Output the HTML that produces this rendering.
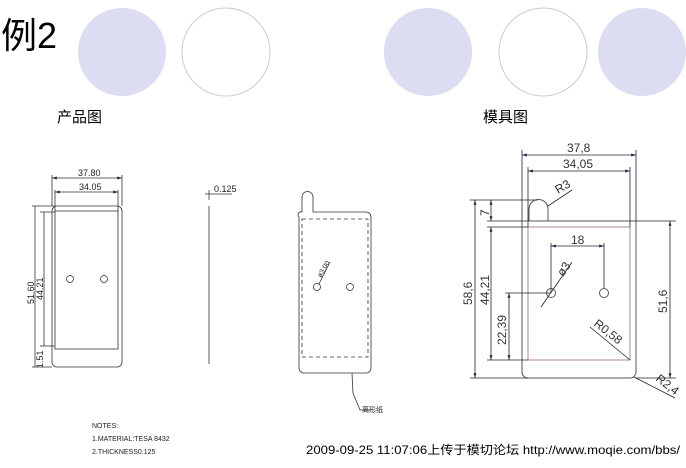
<!DOCTYPE html>
<html><head><meta charset="utf-8"><style>
body{margin:0;background:#fff;width:686px;height:463px;overflow:hidden}
svg text{font-family:"Liberation Sans","Noto Sans CJK SC",sans-serif}
</style></head><body>
<svg width="686" height="463" viewBox="0 0 686 463" xmlns="http://www.w3.org/2000/svg">
<defs><marker id="a" viewBox="0 0 10 10" refX="10" refY="5" markerWidth="6" markerHeight="6" orient="auto-start-reverse"><path d="M0,2 L10,5 L0,8z" fill="#224"/></marker></defs>
<text x="1" y="48" font-size="36" fill="#000">例2</text>
<circle cx="122" cy="52" r="44" fill="#dcdcf2"/>
<circle cx="226" cy="52" r="44" fill="#fff" stroke="#ccc"/>
<circle cx="428" cy="52" r="44" fill="#dcdcf2"/>
<circle cx="543" cy="52" r="44" fill="#fff" stroke="#ccc"/>
<circle cx="642" cy="52" r="44" fill="#dcdcf2"/>
<text x="57" y="122" font-size="15">产品图</text>
<text x="483" y="122" font-size="15">模具图</text>

<!-- left product -->
<g stroke="#333" fill="none" stroke-width="0.8">
<rect x="52" y="206" width="70" height="161" rx="5"/>
<rect x="55" y="211" width="63" height="138"/>
<circle cx="70" cy="279" r="3.5"/><circle cx="104" cy="279" r="3.5"/>
<line x1="52" y1="178" x2="122" y2="178" marker-start="url(#a)" marker-end="url(#a)"/>
<line x1="55" y1="192" x2="118" y2="192" marker-start="url(#a)" marker-end="url(#a)"/>
<line x1="52" y1="175" x2="52" y2="206"/><line x1="122" y1="175" x2="122" y2="206"/>
<line x1="55" y1="190" x2="55" y2="211"/><line x1="118" y1="190" x2="118" y2="211"/>
<line x1="35" y1="206" x2="35" y2="367"/><line x1="44" y1="212" x2="44" y2="346"/>
<line x1="32" y1="206" x2="55" y2="206"/><line x1="40" y1="212" x2="55" y2="212"/>
<line x1="40" y1="346" x2="55" y2="346"/><line x1="32" y1="367" x2="52" y2="367"/>
<line x1="209" y1="206" x2="209" y2="364"/><line x1="209" y1="190" x2="209" y2="200"/>
<line x1="205" y1="194" x2="232" y2="194"/>
</g>
<g font-size="9" fill="#222">
<text x="78" y="176">37.80</text><text x="79" y="190">34.05</text>
<text transform="translate(34,304) rotate(-90)">51.60</text>
<text transform="translate(43,300) rotate(-90)">44.21</text>
<text transform="translate(43,368) rotate(-90)">1.51</text>
<text x="214" y="192">0.125</text>
</g>

<!-- middle -->
<g stroke="#333" fill="none" stroke-width="0.8">
<path d="M302,212 L302,197 A5.5,5.5 0 0 1 313,197 L313,212 L366,212 A5,5 0 0 1 371,217 L371,368 A5,5 0 0 1 366,373 L304,373 A5,5 0 0 1 299,368 L299,217 A3,3 0 0 1 302,212"/>
<rect x="302" y="219" width="66" height="138" stroke-dasharray="4,3"/>
<circle cx="317" cy="287" r="3.5"/><circle cx="350" cy="287" r="3.5"/>
<line x1="319" y1="284" x2="330" y2="262"/>
<path d="M352,373 L353,393 L360,410 L370,410"/>
</g>
<text transform="translate(321,278) rotate(-60)" font-size="7" fill="#222">ø3.00</text>
<text x="362" y="412" font-size="7" fill="#222">离形纸</text>

<!-- right mold -->
<g stroke="#555" fill="none" stroke-width="1">
<path d="M522,221 L522,372 A6,6 0 0 0 528,378 L630,378 A6,6 0 0 0 636,372 L636,221 Z"/>
<rect x="528" y="227" width="102" height="133" stroke="#a88"/>
<path d="M529,221 L529,209 A9,9 0 0 1 548,209 L548,221" />
<circle cx="551" cy="293" r="4.5"/><circle cx="604" cy="293" r="4.5"/>
</g>
<g stroke="#223" fill="none" stroke-width="0.8">
<line x1="522" y1="150" x2="522" y2="221"/><line x1="636" y1="150" x2="636" y2="221"/>
<line x1="528" y1="167" x2="528" y2="227"/><line x1="630" y1="167" x2="630" y2="227"/>
<line x1="522" y1="155" x2="636" y2="155" marker-start="url(#a)" marker-end="url(#a)"/>
<line x1="528" y1="171" x2="630" y2="171" marker-start="url(#a)" marker-end="url(#a)"/>
<line x1="551" y1="243" x2="551" y2="293"/><line x1="604" y1="243" x2="604" y2="288"/>
<line x1="551" y1="246" x2="604" y2="246" marker-start="url(#a)" marker-end="url(#a)"/>
<line x1="470" y1="200" x2="538" y2="200"/><line x1="470" y1="378" x2="528" y2="378"/>
<line x1="487" y1="221" x2="522" y2="221"/><line x1="487" y1="227" x2="528" y2="227"/>
<line x1="487" y1="360" x2="528" y2="360"/><line x1="505" y1="293" x2="551" y2="293"/>
<line x1="475" y1="200" x2="475" y2="378" marker-start="url(#a)" marker-end="url(#a)"/>
<line x1="491" y1="200" x2="491" y2="221" marker-start="url(#a)" marker-end="url(#a)"/>
<line x1="491" y1="227" x2="491" y2="360" marker-start="url(#a)" marker-end="url(#a)"/>
<line x1="509" y1="293" x2="509" y2="360" marker-start="url(#a)" marker-end="url(#a)"/>
<line x1="636" y1="221" x2="676" y2="221"/><line x1="636" y1="378" x2="676" y2="378"/>
<line x1="670" y1="221" x2="670" y2="378" marker-start="url(#a)" marker-end="url(#a)"/>
<line x1="548" y1="206" x2="572" y2="190"/>
<line x1="541" y1="307" x2="572" y2="262"/>
<line x1="590" y1="327" x2="630" y2="360"/>
<line x1="634" y1="377" x2="675" y2="398"/>
</g>
<g font-size="12" fill="#333">
<text x="567" y="152">37,8</text><text x="563" y="168">34,05</text>
<text x="571" y="244">18</text>
<text transform="translate(558,194) rotate(-30)">R3</text>
<text transform="translate(563,277) rotate(-55)">ø3</text>
<text transform="translate(593,325) rotate(38)">R0,58</text>
<text transform="translate(655,380) rotate(38)">R2,4</text>
<text transform="translate(472,305) rotate(-90)">58,6</text>
<text transform="translate(489,216) rotate(-90)">7</text>
<text transform="translate(489,305) rotate(-90)">44,21</text>
<text transform="translate(506,345) rotate(-90)">22,39</text>
<text transform="translate(667,313) rotate(-90)">51,6</text>
</g>

<g font-size="7" fill="#222">
<text x="92" y="428">NOTES:</text>
<text x="92" y="441">1.MATERIAL:TESA 8432</text>
<text x="92" y="454">2.THICKNESS0.125</text>
</g>
<text x="306" y="454" font-size="12" fill="#000" textLength="374" lengthAdjust="spacingAndGlyphs">2009-09-25 11:07:06上传于模切论坛 http://www.moqie.com/bbs/</text>
</svg>
</body></html>
